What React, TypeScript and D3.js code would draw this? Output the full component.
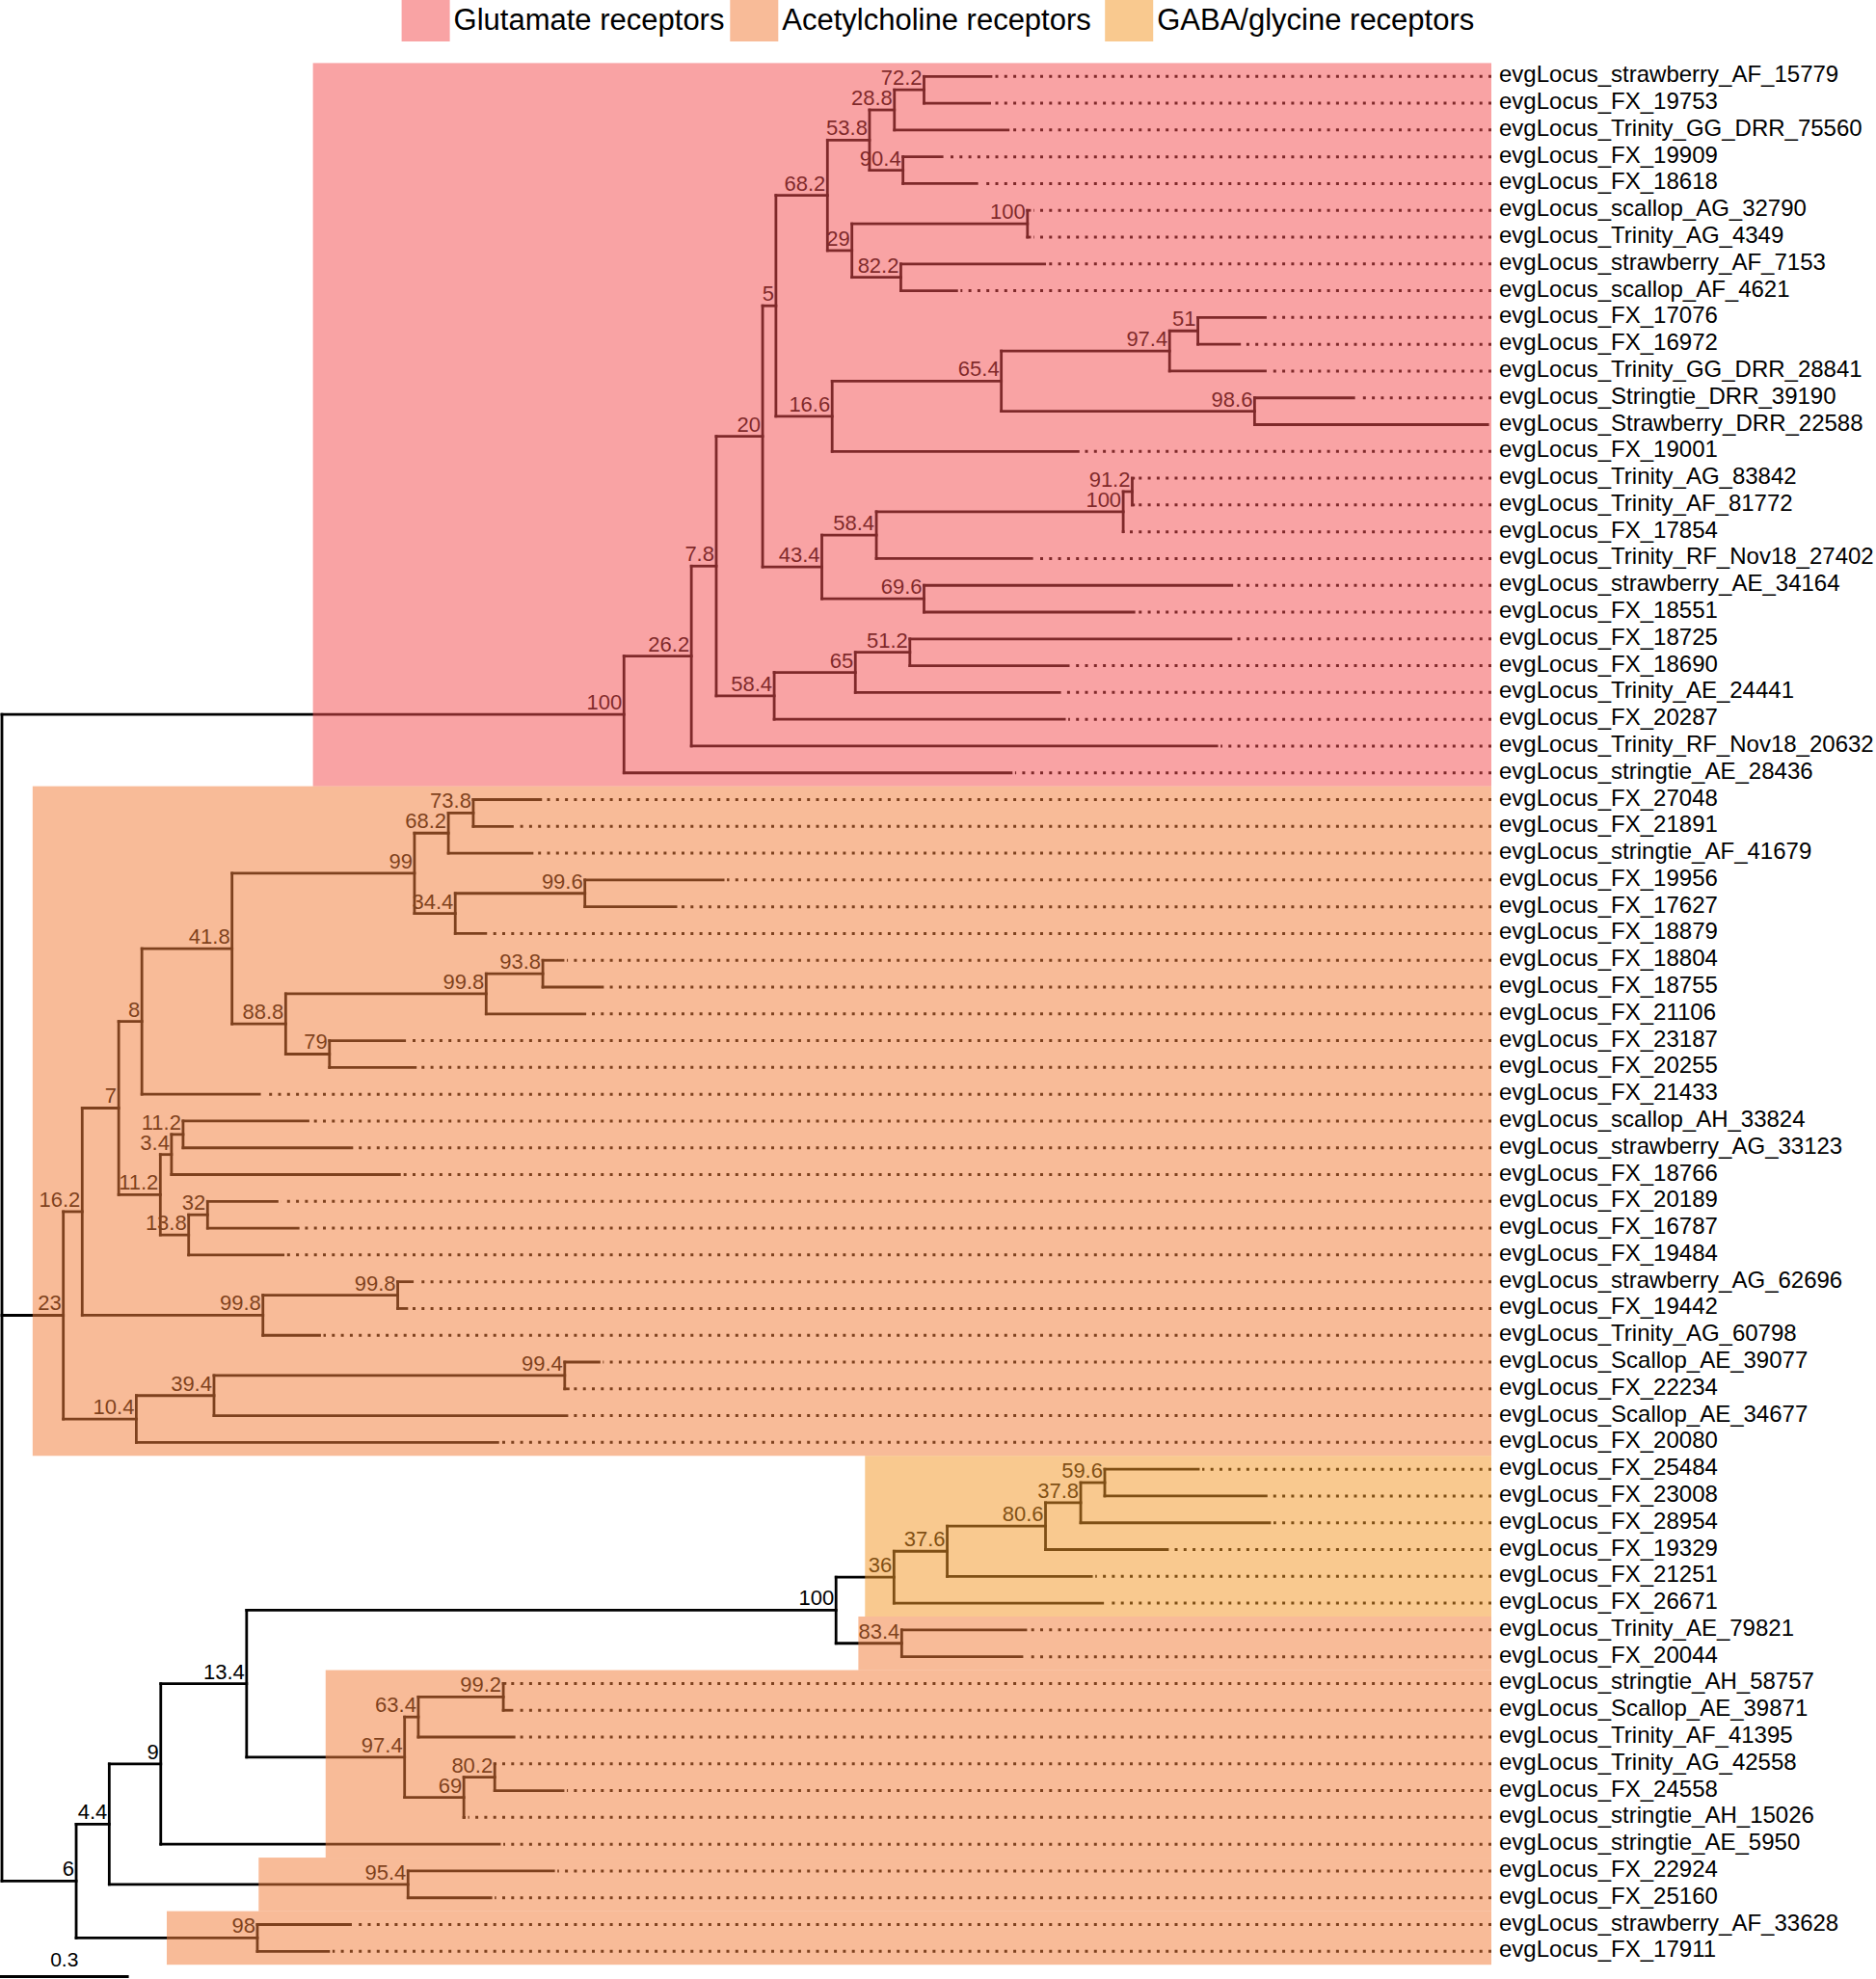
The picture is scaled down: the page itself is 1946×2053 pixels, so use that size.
import React from "react";
import * as d3 from "d3";

// ---------- DATA ----------
const legendLabels = ["Glutamate receptors", "Acetylcholine receptors", "GABA/glycine receptors"];
// overlay colours (drawn semi-transparent over the tree, as in the original)
const categoryColors = ["#f44e50", "#f27c39", "#f49728"];
const overlayOpacity = 0.52;

const scaleBarValue = 0.3;

// leaves, in row order (top to bottom)
const leafNames = [
  "evgLocus_strawberry_AF_15779", "evgLocus_FX_19753", "evgLocus_Trinity_GG_DRR_75560", "evgLocus_FX_19909",
  "evgLocus_FX_18618", "evgLocus_scallop_AG_32790", "evgLocus_Trinity_AG_4349", "evgLocus_strawberry_AF_7153",
  "evgLocus_scallop_AF_4621", "evgLocus_FX_17076", "evgLocus_FX_16972", "evgLocus_Trinity_GG_DRR_28841",
  "evgLocus_Stringtie_DRR_39190", "evgLocus_Strawberry_DRR_22588", "evgLocus_FX_19001", "evgLocus_Trinity_AG_83842",
  "evgLocus_Trinity_AF_81772", "evgLocus_FX_17854", "evgLocus_Trinity_RF_Nov18_27402", "evgLocus_strawberry_AE_34164",
  "evgLocus_FX_18551", "evgLocus_FX_18725", "evgLocus_FX_18690", "evgLocus_Trinity_AE_24441",
  "evgLocus_FX_20287", "evgLocus_Trinity_RF_Nov18_20632", "evgLocus_stringtie_AE_28436",
  "evgLocus_FX_27048", "evgLocus_FX_21891", "evgLocus_stringtie_AF_41679", "evgLocus_FX_19956",
  "evgLocus_FX_17627", "evgLocus_FX_18879", "evgLocus_FX_18804", "evgLocus_FX_18755",
  "evgLocus_FX_21106", "evgLocus_FX_23187", "evgLocus_FX_20255", "evgLocus_FX_21433",
  "evgLocus_scallop_AH_33824", "evgLocus_strawberry_AG_33123", "evgLocus_FX_18766", "evgLocus_FX_20189",
  "evgLocus_FX_16787", "evgLocus_FX_19484", "evgLocus_strawberry_AG_62696", "evgLocus_FX_19442",
  "evgLocus_Trinity_AG_60798", "evgLocus_Scallop_AE_39077", "evgLocus_FX_22234", "evgLocus_Scallop_AE_34677",
  "evgLocus_FX_20080",
  "evgLocus_FX_25484", "evgLocus_FX_23008", "evgLocus_FX_28954", "evgLocus_FX_19329",
  "evgLocus_FX_21251", "evgLocus_FX_26671", "evgLocus_Trinity_AE_79821", "evgLocus_FX_20044",
  "evgLocus_stringtie_AH_58757", "evgLocus_Scallop_AE_39871", "evgLocus_Trinity_AF_41395", "evgLocus_Trinity_AG_42558",
  "evgLocus_FX_24558", "evgLocus_stringtie_AH_15026", "evgLocus_stringtie_AE_5950", "evgLocus_FX_22924",
  "evgLocus_FX_25160", "evgLocus_strawberry_AF_33628", "evgLocus_FX_17911",
];

const leafParents = [
  "G72_2", "G72_2", "G28_8", "G90_4", "G90_4", "G100a", "G100a", "G82_2", "G82_2", "G51",
  "G51", "G97_4", "G98_6", "G98_6", "G16_6", "G91_2", "G91_2", "G100b", "G58_4a", "G69_6",
  "G69_6", "G51_2", "G51_2", "G65", "G58_4b", "G26_2", "G100",
  "A73_8", "A73_8", "A68_2", "A99_6", "A99_6", "A84_4", "A93_8", "A93_8", "A99_8a",
  "A79", "A79", "A8", "A11_2a", "A11_2a", "A3_4", "A32", "A32", "A18_8",
  "A99_8c", "A99_8c", "A99_8b", "A99_4", "A99_4", "A39_4", "A10_4",
  "B59_6", "B59_6", "B37_8", "B80_6", "B37_6", "B36", "B83_4", "B83_4",
  "B99_2", "B99_2", "B63_4", "B80_2", "B80_2", "B69", "B9", "B95_4", "B95_4", "B98", "B98",
];

// distance from root (substitutions / site)
const leafDepths = [
  2.304, 2.301, 2.344, 2.190, 2.271, 2.394, 2.394, 2.429, 2.224, 2.943,
  2.883, 2.943, 3.149, 3.461, 2.507, 2.636, 2.636, 2.612, 2.399, 2.865,
  2.637, 2.863, 2.484, 2.464, 2.475, 2.830, 2.351,
  1.255, 1.189, 1.235, 1.680, 1.570, 1.127, 1.307, 1.399, 1.358,
  0.938, 0.963, 0.600, 0.713, 0.815, 0.926, 0.641, 0.690, 0.655,
  0.956, 0.943, 0.740, 1.391, 1.319, 1.316, 1.155,
  2.787, 2.945, 2.953, 2.715, 2.538, 2.564, 2.385, 2.376,
  1.172, 1.188, 1.193, 1.149, 1.307, 1.077, 1.159, 1.285, 1.139, 0.812, 0.761,
];

// internal nodes: [id, parent, bootstrap support, distance from root]
const internalNodes: [string, string, string, number][] = [
  ["root", "", "", 0],
  ["G100", "root", "100", 1.449],
  ["G26_2", "G100", "26.2", 1.606],
  ["G7_8", "G26_2", "7.8", 1.664],
  ["G20", "G7_8", "20", 1.772],
  ["G5", "G20", "5", 1.803],
  ["G68_2", "G5", "68.2", 1.923],
  ["G53_8", "G68_2", "53.8", 2.021],
  ["G28_8", "G53_8", "28.8", 2.079],
  ["G72_2", "G28_8", "72.2", 2.148],
  ["G90_4", "G53_8", "90.4", 2.099],
  ["G29", "G68_2", "29", 1.980],
  ["G100a", "G29", "100", 2.389],
  ["G82_2", "G29", "82.2", 2.094],
  ["G16_6", "G5", "16.6", 1.934],
  ["G65_4", "G16_6", "65.4", 2.328],
  ["G97_4", "G65_4", "97.4", 2.720],
  ["G51", "G97_4", "51", 2.786],
  ["G98_6", "G65_4", "98.6", 2.918],
  ["G43_4", "G20", "43.4", 1.910],
  ["G58_4a", "G43_4", "58.4", 2.037],
  ["G100b", "G58_4a", "100", 2.612],
  ["G91_2", "G100b", "91.2", 2.633],
  ["G69_6", "G43_4", "69.6", 2.148],
  ["G58_4b", "G7_8", "58.4", 1.799],
  ["G65", "G58_4b", "65", 1.988],
  ["G51_2", "G65", "51.2", 2.115],
  ["A23", "root", "23", 0.143],
  ["A16_2", "A23", "16.2", 0.187],
  ["A7", "A16_2", "7", 0.272],
  ["A8", "A7", "8", 0.326],
  ["A41_8", "A8", "41.8", 0.536],
  ["A99", "A41_8", "99", 0.961],
  ["A68_2", "A99", "68.2", 1.040],
  ["A73_8", "A68_2", "73.8", 1.098],
  ["A84_4", "A99", "34.4", 1.056],
  ["A99_6", "A84_4", "99.6", 1.358],
  ["A88_8", "A41_8", "88.8", 0.661],
  ["A99_8a", "A88_8", "99.8", 1.128],
  ["A93_8", "A99_8a", "93.8", 1.260],
  ["A79", "A88_8", "79", 0.763],
  ["A11_2b", "A7", "11.2", 0.369],
  ["A3_4", "A11_2b", "3.4", 0.395],
  ["A11_2a", "A3_4", "11.2", 0.422],
  ["A18_8", "A11_2b", "13.8", 0.435],
  ["A32", "A18_8", "32", 0.479],
  ["A99_8b", "A16_2", "99.8", 0.608],
  ["A99_8c", "A99_8b", "99.8", 0.922],
  ["A10_4", "A23", "10.4", 0.313],
  ["A39_4", "A10_4", "39.4", 0.494],
  ["A99_4", "A39_4", "99.4", 1.311],
  ["B6", "root", "6", 0.173],
  ["B4_4", "B6", "4.4", 0.250],
  ["B9", "B4_4", "9", 0.370],
  ["B13_4", "B9", "13.4", 0.570],
  ["B100", "B13_4", "100", 1.943],
  ["B36", "B100", "36", 2.078],
  ["B37_6", "B36", "37.6", 2.202],
  ["B80_6", "B37_6", "80.6", 2.431],
  ["B37_8", "B80_6", "37.8", 2.513],
  ["B59_6", "B37_8", "59.6", 2.569],
  ["B83_4", "B100", "83.4", 2.096],
  ["B97_4", "B13_4", "97.4", 0.938],
  ["B63_4", "B97_4", "63.4", 0.970],
  ["B99_2", "B63_4", "99.2", 1.168],
  ["B69", "B97_4", "69", 1.076],
  ["B80_2", "B69", "80.2", 1.148],
  ["B95_4", "B4_4", "95.4", 0.946],
  ["B98", "B6", "98", 0.595],
];

// highlighted ranges: [anchor node, category index, box start along anchor's stem (fraction), first leaf row, last leaf row]
const highlightRanges: [string, number, number, number, number][] = [
  ["G100", 0, 0.5, 0, 26],
  ["A23", 1, 0.5, 27, 51],
  ["B36", 2, 0.5, 52, 57],
  ["B83_4", 1, 0.34, 58, 59],
  ["B97_4", 1, 0.5, 60, 66],
  ["B95_4", 1, 0.5, 67, 68],
  ["B98", 1, 0.5, 69, 70],
];

// ---------- LAYOUT ----------
const W = 1946;
const H = 2053;
const FONT = "'Liberation Sans', Arial, Helvetica, sans-serif";
const firstRowY = 79.3;
const lastRowY = 2024.3;
const rowStep = (lastRowY - firstRowY) / (leafNames.length - 1);
const labelX = 1555;
const dotEndX = 1547;
const boxRight = 1547;
const strokeW = 2.8;

type Row = { id: string; parent: string; support: string; depth: number; leaf: number };

export default function App() {
  const rows: Row[] = [
    ...internalNodes.map(([id, parent, support, depth]) => ({ id, parent, support, depth, leaf: -1 })),
    ...leafNames.map((name, i) => ({ id: name, parent: leafParents[i], support: "", depth: leafDepths[i], leaf: i })),
  ];

  const root = d3
    .stratify<Row>()
    .id((d) => d.id)
    .parentId((d) => (d.parent ? d.parent : null))(rows);

  const xScale = d3.scaleLinear().domain([0, 3.5]).range([2, 2 + 3.5 * 445.3]);
  const yScale = d3.scaleLinear().domain([0, leafNames.length - 1]).range([firstRowY, lastRowY]);

  const pos = new Map<string, { x: number; y: number }>();
  root.eachAfter((n) => {
    const x = xScale(n.data.depth);
    let y: number;
    if (!n.children) y = yScale(n.data.leaf);
    else {
      const ys = n.children.map((c) => pos.get(c.id!)!.y);
      y = ((d3.min(ys) as number) + (d3.max(ys) as number)) / 2;
    }
    pos.set(n.id!, { x, y });
  });

  const nodes = root.descendants();
  const branchPaths: string[] = [];
  nodes.forEach((n) => {
    const p = pos.get(n.id!)!;
    if (n.parent) {
      const pp = pos.get(n.parent.id!)!;
      branchPaths.push(`M${pp.x},${p.y}H${p.x}`);
    }
    if (n.children) {
      const ys = n.children.map((c) => pos.get(c.id!)!.y);
      branchPaths.push(`M${p.x},${d3.min(ys)}V${d3.max(ys)}`);
    }
  });

  const leaves = root.leaves();
  const half = rowStep / 2;

  const boxes = highlightRanges.map(([id, cat, frac, r0, r1]) => {
    const node = root.find((n) => n.id === id)!;
    const p = pos.get(id)!;
    const pp = pos.get(node.parent!.id!)!;
    const x0 = pp.x + frac * (p.x - pp.x);
    const y0 = yScale(r0) - half;
    const y1 = yScale(r1) + half;
    return { id, x: x0, y: y0, w: boxRight - x0, h: y1 - y0, color: categoryColors[cat] };
  });

  const legendX = [416.6, 757.3, 1146.2];

  return (
    <svg
      width={W}
      height={H}
      viewBox={`0 0 ${W} ${H}`}
      style={{ position: "absolute", left: 0, top: 0, display: "block", background: "#fff" }}
      fontFamily={FONT}
    >
      <rect x={0} y={0} width={W} height={H} fill="#fff" />
      {/* tree */}
      <g stroke="#000" strokeWidth={strokeW} fill="none" strokeLinecap="square">
        {branchPaths.map((d, i) => (
          <path key={i} d={d} />
        ))}
      </g>
      {/* dotted leaders */}
      <g stroke="#000" strokeWidth={3} strokeDasharray="3 6.3" fill="none">
        {leaves.map((l) => {
          const p = pos.get(l.id!)!;
          if (p.x > dotEndX - 8) return null;
          return <line key={l.id} x1={dotEndX} x2={p.x + 4} y1={p.y} y2={p.y} />;
        })}
      </g>
      {/* support values */}
      <g fontSize={22} fill="#000" textAnchor="end">
        {nodes
          .filter((n) => n.children && n.data.support)
          .map((n) => {
            const p = pos.get(n.id!)!;
            return (
              <text key={n.id} x={p.x - 2} y={p.y - 5}>
                {n.data.support}
              </text>
            );
          })}
      </g>
      {/* highlight overlays */}
      <g>
        {boxes.map((b) => (
          <rect key={b.id} x={b.x} y={b.y} width={b.w} height={b.h} fill={b.color} fillOpacity={overlayOpacity} />
        ))}
      </g>
      {/* leaf labels */}
      <g fontSize={24} fill="#000">
        {leaves.map((l) => {
          const p = pos.get(l.id!)!;
          return (
            <text key={l.id} x={labelX} y={p.y + 6}>
              {l.id}
            </text>
          );
        })}
      </g>
      {/* legend */}
      <g>
        {legendLabels.map((lab, i) => (
          <g key={lab}>
            <rect x={legendX[i]} y={0} width={50} height={43} fill={categoryColors[i]} fillOpacity={overlayOpacity} />
            <text x={legendX[i] + 54} y={31} fontSize={31} fill="#000">
              {lab}
            </text>
          </g>
        ))}
      </g>
      {/* scale bar */}
      <g>
        <line
          x1={xScale(0) - 2}
          x2={xScale(scaleBarValue) - 2}
          y1={2050.5}
          y2={2050.5}
          stroke="#000"
          strokeWidth={strokeW}
        />
        <text x={(xScale(0) + xScale(scaleBarValue)) / 2 - 2} y={2040} fontSize={21} textAnchor="middle" fill="#000">
          {scaleBarValue}
        </text>
      </g>
    </svg>
  );
}
